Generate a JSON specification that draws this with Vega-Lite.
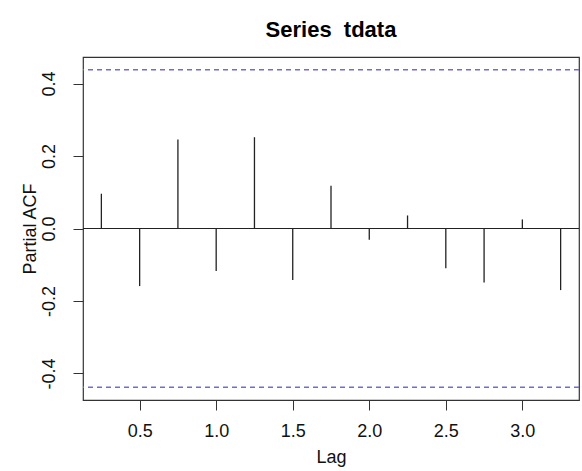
{
  "$schema": "https://vega.github.io/schema/vega-lite/v6.json",
  "width": 496,
  "height": 343,
  "autosize": {"type": "none"},
  "padding": {"left": 83, "top": 57, "right": 3, "bottom": 71},
  "background": "white",
  "title": {
    "text": "Series\u00a0 tdata",
    "font": "Liberation Sans",
    "fontSize": 22,
    "fontWeight": "bold",
    "color": "#000000",
    "anchor": "middle",
    "offset": 15
  },
  "data": {
    "values": [
      {"lag": 0.25, "pacf": 0.096},
      {"lag": 0.5, "pacf": -0.159},
      {"lag": 0.75, "pacf": 0.246},
      {"lag": 1.0, "pacf": -0.117},
      {"lag": 1.25, "pacf": 0.252},
      {"lag": 1.5, "pacf": -0.142},
      {"lag": 1.75, "pacf": 0.118},
      {"lag": 2.0, "pacf": -0.031},
      {"lag": 2.25, "pacf": 0.036},
      {"lag": 2.5, "pacf": -0.11},
      {"lag": 2.75, "pacf": -0.149},
      {"lag": 3.0, "pacf": 0.025},
      {"lag": 3.25, "pacf": -0.17}
    ]
  },
  "encoding": {
    "x": {
      "field": "lag",
      "type": "quantitative",
      "scale": {"domain": [0.13, 3.37], "nice": false, "zero": false},
      "axis": {
        "values": [0.5, 1.0, 1.5, 2.0, 2.5, 3.0],
        "labelExpr": "format(datum.value, '.1f')",
        "grid": false,
        "domain": false,
        "tickSize": 10,
        "tickColor": "#333333",
        "labelFont": "Liberation Sans",
        "labelFontSize": 18,
        "labelColor": "#111111",
        "labelPadding": 12,
        "title": "Lag",
        "titleFont": "Liberation Sans",
        "titleFontSize": 18,
        "titleFontWeight": "normal",
        "titleColor": "#111111",
        "titleBaseline": "alphabetic",
        "titleY": 62
      }
    }
  },
  "layer": [
    {
      "mark": {"type": "rule", "color": "#222222", "strokeWidth": 1.3},
      "encoding": {
        "y": {
          "field": "pacf",
          "type": "quantitative",
          "scale": {"domain": [-0.4734, 0.4734], "nice": false},
          "axis": {
            "values": [-0.4, -0.2, 0, 0.2, 0.4],
            "labelExpr": "replace(format(datum.value, '.1f'), '\u2212', '-')",
            "grid": false,
            "domain": false,
            "tickSize": 10,
            "tickColor": "#333333",
            "labelAngle": 270,
            "labelAlign": "center",
            "labelBaseline": "bottom",
            "labelPadding": 15,
            "labelFont": "Liberation Sans",
            "labelFontSize": 18,
            "labelColor": "#111111",
            "title": "Partial ACF",
            "titleFont": "Liberation Sans",
            "titleFontSize": 18,
            "titleFontWeight": "normal",
            "titleColor": "#111111",
            "titleBaseline": "alphabetic",
            "titleX": -48
          }
        },
        "y2": {"datum": 0}
      }
    },
    {
      "data": {"values": [{"zero": 0}]},
      "mark": {"type": "rule", "color": "#222222", "strokeWidth": 1.2},
      "encoding": {"y": {"field": "zero", "type": "quantitative"}, "x": null}
    },
    {
      "data": {"values": [{"ci": 0.4383}, {"ci": -0.4383}]},
      "mark": {"type": "rule", "color": "#6d6dd2", "strokeWidth": 1.5, "strokeDash": [5, 4]},
      "encoding": {"y": {"field": "ci", "type": "quantitative"}, "x": null}
    }
  ],
  "config": {
    "view": {"stroke": "#333333", "strokeWidth": 1.2}
  }
}
